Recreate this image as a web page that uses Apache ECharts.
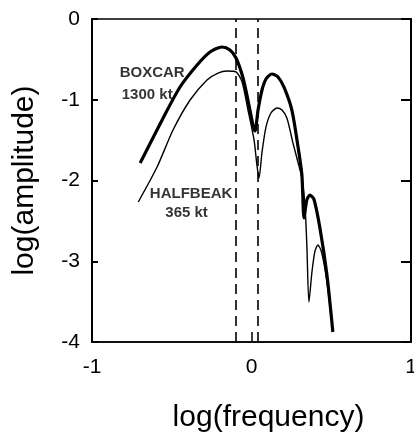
<!DOCTYPE html>
<html>
<head>
<meta charset="utf-8">
<script src="https://cdn.jsdelivr.net/npm/echarts@6/dist/echarts.min.js"></script>
<style>html,body{margin:0;padding:0;background:#fff}#c{width:414px;height:434px}</style>
</head>
<body>
<div id="c"></div>
<script>
// log(frequency) / log(amplitude)
const boxcarFreq = [-0.698,-0.554,-0.448,-0.341,-0.260,-0.185,-0.135,-0.097,-0.053,-0.016,0.009,0.022,0.041,0.066,0.091,0.128,0.166,0.203,0.253,0.291,0.316,0.329,0.347,0.366,0.391,0.429,0.473,0.510];
const boxcarAmp  = [-1.783,-1.226,-0.842,-0.570,-0.409,-0.347,-0.384,-0.483,-0.731,-1.065,-1.313,-1.387,-1.127,-0.879,-0.743,-0.681,-0.718,-0.842,-1.127,-1.573,-1.932,-2.464,-2.241,-2.180,-2.229,-2.588,-3.170,-3.876];
const halfbeakFreq = [-0.710,-0.592,-0.492,-0.385,-0.279,-0.210,-0.153,-0.097,-0.059,-0.022,0.016,0.034,0.047,0.066,0.091,0.122,0.160,0.191,0.222,0.260,0.291,0.316,0.335,0.347,0.360,0.379,0.397,0.416,0.435,0.454,0.473,0.491,0.510];
const halfbeakAmp  = [-2.266,-1.833,-1.375,-1.003,-0.755,-0.669,-0.644,-0.656,-0.780,-1.127,-1.498,-1.808,-1.969,-1.647,-1.337,-1.164,-1.102,-1.127,-1.226,-1.536,-1.771,-1.969,-2.303,-2.799,-3.505,-3.133,-2.885,-2.799,-2.861,-3.022,-3.257,-3.542,-3.851];
const dashedFreqs = [-0.1, 0.045];
const xTicks = [-1, 0, 1];
const yTicks = [0, -1, -2, -3, -4];
const annotTexts = ['BOXCAR', '1300 kt', 'HALFBEAK', '365 kt'];
const annotFreq = [-0.623, -0.654, -0.379, -0.407];
const annotAmp  = [-0.669, -0.941, -2.161, -2.396];

const FONT = 'Liberation Sans';
const pairs = (xs, ys) => xs.map((x, i) => [x, ys[i]]);

const chart = echarts.init(document.getElementById('c'), null, {renderer: 'canvas'});
chart.setOption({
  animation: false,
  backgroundColor: '#fff',
  grid: {left: 92, right: 3, top: 19, bottom: 92, containLabel: false, outerBoundsMode: 'none',
         show: true, borderColor: '#000', borderWidth: 1.5, backgroundColor: 'transparent'},
  xAxis: {
    type: 'value', min: xTicks[0], max: xTicks[xTicks.length - 1], interval: 1,
    name: 'log(frequency)', nameLocation: 'middle', nameGap: 61,
    nameTextStyle: {fontFamily: FONT, fontSize: 30, color: '#000', padding: [0, 0, 0, 34]},
    axisLine: {show: true, onZero: false, lineStyle: {color: '#000', width: 1.5}},
    axisTick: {show: true, inside: true, length: 10, lineStyle: {color: '#000', width: 1.5}},
    axisLabel: {fontFamily: FONT, fontSize: 21, color: '#000', margin: 15},
    splitLine: {show: false}
  },
  yAxis: [{
    type: 'value', min: yTicks[yTicks.length - 1], max: yTicks[0], interval: 1,
    name: 'log(amplitude)', nameLocation: 'middle', nameGap: 52,
    nameTextStyle: {fontFamily: FONT, fontSize: 30, color: '#000'},
    axisLine: {show: true, onZero: false, lineStyle: {color: '#000', width: 2}},
    axisTick: {show: true, inside: true, length: 6, lineStyle: {color: '#000', width: 2}},
    axisLabel: {fontFamily: FONT, fontSize: 21, color: '#000', margin: 12},
    splitLine: {show: false}
  }, {
    type: 'value', position: 'right', min: yTicks[yTicks.length - 1], max: yTicks[0], interval: 1,
    axisLine: {show: true, onZero: false, lineStyle: {color: '#000', width: 2}},
    axisTick: {show: true, inside: true, length: 10, lineStyle: {color: '#000', width: 2}},
    axisLabel: {show: false},
    splitLine: {show: false}
  }],
  series: [{
    name: 'BOXCAR', type: 'line', data: pairs(boxcarFreq, boxcarAmp), showSymbol: false, smooth: 0.25,
    lineStyle: {color: '#000', width: 3.2},
    markLine: {
      silent: true, symbol: 'none', label: {show: false},
      lineStyle: {color: '#000', width: 1.6, type: [10, 6]},
      data: dashedFreqs.map(v => ({xAxis: v}))
    }
  }, {
    name: 'HALFBEAK', type: 'line', data: pairs(halfbeakFreq, halfbeakAmp), showSymbol: false, smooth: 0.25,
    lineStyle: {color: '#000', width: 1.4}
  }, {
    name: 'labels', type: 'scatter', symbolSize: 0, silent: true,
    data: annotTexts.map((t, i) => ({value: [annotFreq[i], annotAmp[i]], name: t})),
    label: {show: true, position: 'inside', formatter: p => p.name, fontFamily: FONT, fontSize: 15, fontWeight: 'bold', color: '#000'}
  }]
});
</script>
</body>
</html>
